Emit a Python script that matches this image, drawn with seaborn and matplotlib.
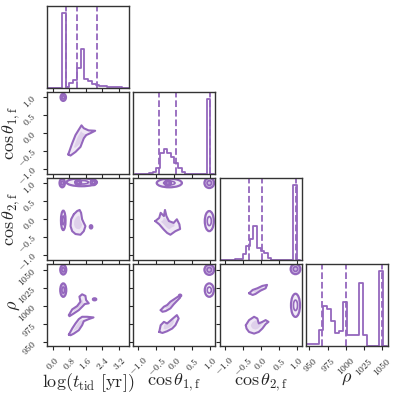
import numpy as np
import pandas as pd
import seaborn as sns
import matplotlib.pyplot as plt
from matplotlib.patches import Ellipse

# labels / axes
labels = [r'$\log(t_{\rm tid}\ [{\rm yr}])$', r'$\cos\theta_{1,{\rm f}}$',
          r'$\cos\theta_{2,{\rm f}}$', r'$\rho$']
limits = [(-0.27, 3.69), (-1.14, 1.14), (-1.14, 1.14), (945, 1058)]
ticks = [[0.0, 0.8, 1.6, 2.4, 3.2], [-1.0, -0.5, 0.0, 0.5, 1.0],
         [-1.0, -0.5, 0.0, 0.5, 1.0], [950, 975, 1000, 1025, 1050]]

# 1D histograms (bin edges + counts)
logt_edges = np.linspace(-0.27, 3.69, 23)
logt_counts = [0, 0, 0, 0, 225, 3, 15, 25, 60, 117, 27, 20, 13, 8, 6, 5, 4, 3, 2, 2, 1, 1]
cos1_edges = np.linspace(-1.1, 1.1, 23)
cos1_counts = [0, 0, 0, 0, 1, 3, 8, 28, 34, 28, 23, 15, 8, 2, 0, 0, 0, 0, 0, 0, 100, 0]
cos2_edges = np.linspace(-1.1, 1.1, 23)
cos2_counts = [0, 0, 0, 0, 1, 1, 8, 18, 28, 45, 16, 12, 9, 3, 0, 0, 0, 0, 0, 0, 100, 0]
rho_edges = np.linspace(946.5, 1056.5, 21)
rho_counts = [5, 5, 5, 49, 119, 110, 75, 40, 45, 132, 34, 34, 34, 190, 32, 0, 0, 0, 224, 0]

# 16/50/84 percent quantiles
logt_q = [0.62, 1.18, 2.14]
cos1_q = [-0.42, 0.05, 0.99]
cos2_q = [-0.33, 0.05, 0.99]
rho_q = [967.5, 1000.6, 1050.2]

# 2D contour outlines (x list, y list), per panel (row, col)
cos1_logt_x = [0.75, 0.94, 1.10, 1.26, 1.39, 1.50, 1.73, 2.05, 1.81, 1.62, 1.50, 1.34, 1.10, 0.86]
cos1_logt_y = [-0.60, -0.29, -0.06, 0.09, 0.21, 0.13, 0.07, 0.06, -0.01, -0.06, -0.15, -0.39, -0.53, -0.63]

cos2_logt_x = [1.02, 1.18, 1.30, 1.37, 1.42, 1.50, 1.58, 1.50, 1.34, 1.10, 0.94, 0.86, 0.89]
cos2_logt_y = [0.13, 0.22, 0.25, 0.17, -0.01, -0.11, -0.20, -0.34, -0.44, -0.42, -0.34, -0.20, -0.01]

rho_logt_up_x = [0.78, 0.94, 1.18, 1.34, 1.29, 1.42, 1.58, 1.61, 1.74, 1.55, 1.42, 1.26, 1.02, 0.81]
rho_logt_up_y = [987.5, 995.4, 1000, 1006, 1013, 1016.2, 1014, 1008.3, 1003.8, 1002.8, 999, 994.4, 989.8, 986]
rho_logt_lo_x = [0.78, 0.94, 1.10, 1.26, 1.42, 1.66, 1.97, 1.74, 1.50, 1.42, 1.26, 1.02, 0.86]
rho_logt_lo_y = [960.6, 969, 976, 982, 985.2, 985.2, 984.3, 982, 979.2, 973.6, 966.7, 962, 959.7]

cos2_cos1_x = [-0.53, -0.42, -0.38, -0.29, -0.26, -0.22, -0.15, -0.02, 0.07, 0.14, 0.16, 0.03, -0.11, -0.20, -0.29, -0.42]
cos2_cos1_y = [-0.06, 0.03, 0.17, 0.08, 0.25, 0.08, -0.06, -0.11, -0.01, -0.15, -0.28, -0.34, -0.44, -0.39, -0.30, -0.15]

rho_cos1_up_x = [-0.38, -0.29, -0.20, -0.11, 0.03, 0.14, 0.16, 0.07, -0.02, -0.11, -0.24, -0.33]
rho_cos1_up_y = [994.4, 999.1, 1001.4, 1006, 1010.6, 1014.3, 1011.6, 1007, 1002.3, 996.8, 993.1, 992.1]
rho_cos1_lo_x = [-0.42, -0.38, -0.29, -0.20, -0.06, 0.07, 0.12, 0.03, -0.06, -0.20, -0.33]
rho_cos1_lo_y = [964.3, 973.6, 978.2, 976, 982, 987.5, 982.9, 973.6, 969, 965.3, 962.9]

rho_cos2_up_x = [-0.32, -0.22, -0.09, 0.05, 0.18, 0.14, 0.0, -0.14, -0.22]
rho_cos2_up_y = [1017.6, 1022.2, 1024.5, 1027.8, 1029.2, 1024.5, 1021.3, 1016.7, 1015.3]
rho_cos2_lo_x = [-0.41, -0.32, -0.18, -0.09, -0.05, 0.05, 0.14, 0.22, 0.14, 0.05, -0.05, -0.18, -0.32, -0.39]
rho_cos2_lo_y = [973.6, 980.6, 985.2, 982.9, 976, 978.2, 980.6, 978.2, 975, 969, 964.3, 962, 964.3, 969]

# compact modes drawn as ellipses: (x, y, width, height, heavy)
cos1_logt_ell = [(0.51, 0.99, 0.26, 0.20, True)]
cos2_logt_ell = [(0.46, 1.0, 0.26, 0.24, True), (1.40, 1.02, 1.47, 0.22, False),
                 (1.23, 1.02, 0.28, 0.16, False), (1.97, 1.02, 0.28, 0.16, False),
                 (0.51, -0.04, 0.22, 0.54, False), (1.85, -0.22, 0.12, 0.09, True)]
rho_logt_ell = [(0.51, 1050, 0.29, 13, True), (0.51, 1022, 0.29, 18.5, True),
                (2.02, 1009.3, 0.16, 2.8, True)]
cos2_cos1_ell = [(-0.14, 1.0, 0.70, 0.24, False), (-0.18, 1.0, 0.17, 0.16, False),
                 (0.97, 1.0, 0.27, 0.28, True), (0.97, -0.06, 0.25, 0.56, False)]
rho_cos1_ell = [(0.97, 1050, 0.27, 14, True), (0.97, 1022, 0.25, 18.5, False),
                (0.16, 1014.5, 0.06, 2.5, True)]
rho_cos2_ell = [(0.97, 1051, 0.27, 14, True), (0.97, 1001, 0.25, 32, False)]

color = '#9467bd'

sns.set_style('ticks')
plt.rcParams['font.family'] = 'serif'
plt.rcParams['font.serif'] = ['cmr10', 'DejaVu Serif']
plt.rcParams['mathtext.fontset'] = 'cm'
plt.rcParams['axes.formatter.use_mathtext'] = True
plt.rcParams['axes.unicode_minus'] = True

fig, axes = plt.subplots(4, 4, figsize=(3.99, 3.94), dpi=100)
plt.subplots_adjust(left=0.118, right=0.972, bottom=0.122, top=0.985, wspace=0.05, hspace=0.05)

hists = [(logt_edges, logt_counts, logt_q), (cos1_edges, cos1_counts, cos1_q),
         (cos2_edges, cos2_counts, cos2_q), (rho_edges, rho_counts, rho_q)]

blobs = {
    (1, 0): ([(cos1_logt_x, cos1_logt_y)], cos1_logt_ell),
    (2, 0): ([(cos2_logt_x, cos2_logt_y)], cos2_logt_ell),
    (3, 0): ([(rho_logt_up_x, rho_logt_up_y), (rho_logt_lo_x, rho_logt_lo_y)], rho_logt_ell),
    (2, 1): ([(cos2_cos1_x, cos2_cos1_y)], cos2_cos1_ell),
    (3, 1): ([(rho_cos1_up_x, rho_cos1_up_y), (rho_cos1_lo_x, rho_cos1_lo_y)], rho_cos1_ell),
    (3, 2): ([(rho_cos2_up_x, rho_cos2_up_y), (rho_cos2_lo_x, rho_cos2_lo_y)], rho_cos2_ell),
}


def draw_polygon(ax, xs, ys):
    xs = np.array(xs + xs[:1])
    ys = np.array(ys + ys[:1])
    ax.fill(xs, ys, color=color, alpha=0.15, lw=0)
    # darker inner level
    cx, cy = xs[:-1].mean(), ys[:-1].mean()
    ax.fill(cx + 0.55 * (xs - cx), cy + 0.55 * (ys - cy), color=color, alpha=0.18, lw=0)
    ax.plot(xs, ys, color=color, lw=1.5)


def draw_ellipse(ax, x, y, w, h, heavy):
    ax.add_patch(Ellipse((x, y), w, h, facecolor=color, alpha=0.45 if heavy else 0.12, lw=0))
    ax.add_patch(Ellipse((x, y), w, h, fill=False, edgecolor=color, lw=1.6))
    ax.add_patch(Ellipse((x, y), w * 0.45, h * 0.45, fill=False, edgecolor=color, lw=1.2))


for i in range(4):
    for j in range(4):
        ax = axes[i, j]
        if j > i:
            ax.axis('off')
            continue
        if i == j:
            edges, counts, q = hists[i]
            centers = 0.5 * (edges[1:] + edges[:-1])
            df = pd.DataFrame({'x': centers, 'w': counts})
            sns.histplot(data=df, x='x', weights='w', bins=list(edges), element='step',
                         fill=False, color=color, lw=1.3, ax=ax)
            for v in q:
                ax.axvline(v, color=color, ls='--', lw=1.3)
            ax.set_ylim(0, 1.1 * max(counts))
            ax.set_yticks([])
            ax.set_ylabel('')
        else:
            ax.set_ylim(limits[i])
            polys, ells = blobs[(i, j)]
            for xs, ys in polys:
                draw_polygon(ax, xs, ys)
            for e in ells:
                draw_ellipse(ax, *e)
            ax.set_yticks(ticks[i])
            if j == 0:
                ax.set_ylabel(labels[i], fontsize=13)
                ax.yaxis.set_label_coords(-0.3, 0.5)
                for lab in ax.get_yticklabels():
                    lab.set_rotation(45)
            else:
                ax.set_yticklabels([])
        ax.set_xlim(limits[j])
        ax.set_xticks(ticks[j])
        if i == 3:
            ax.set_xlabel(labels[j], fontsize=13)
            ax.xaxis.set_label_coords(0.5, -0.31)
            for lab in ax.get_xticklabels():
                lab.set_rotation(45)
        else:
            ax.set_xticklabels([])
            ax.set_xlabel('')
        ax.tick_params(labelsize=7, length=3, width=0.8)
        for s in ax.spines.values():
            s.set_visible(True)
            s.set_linewidth(1.0)
            s.set_color('#333333')

plt.savefig('out.png', dpi=100)
